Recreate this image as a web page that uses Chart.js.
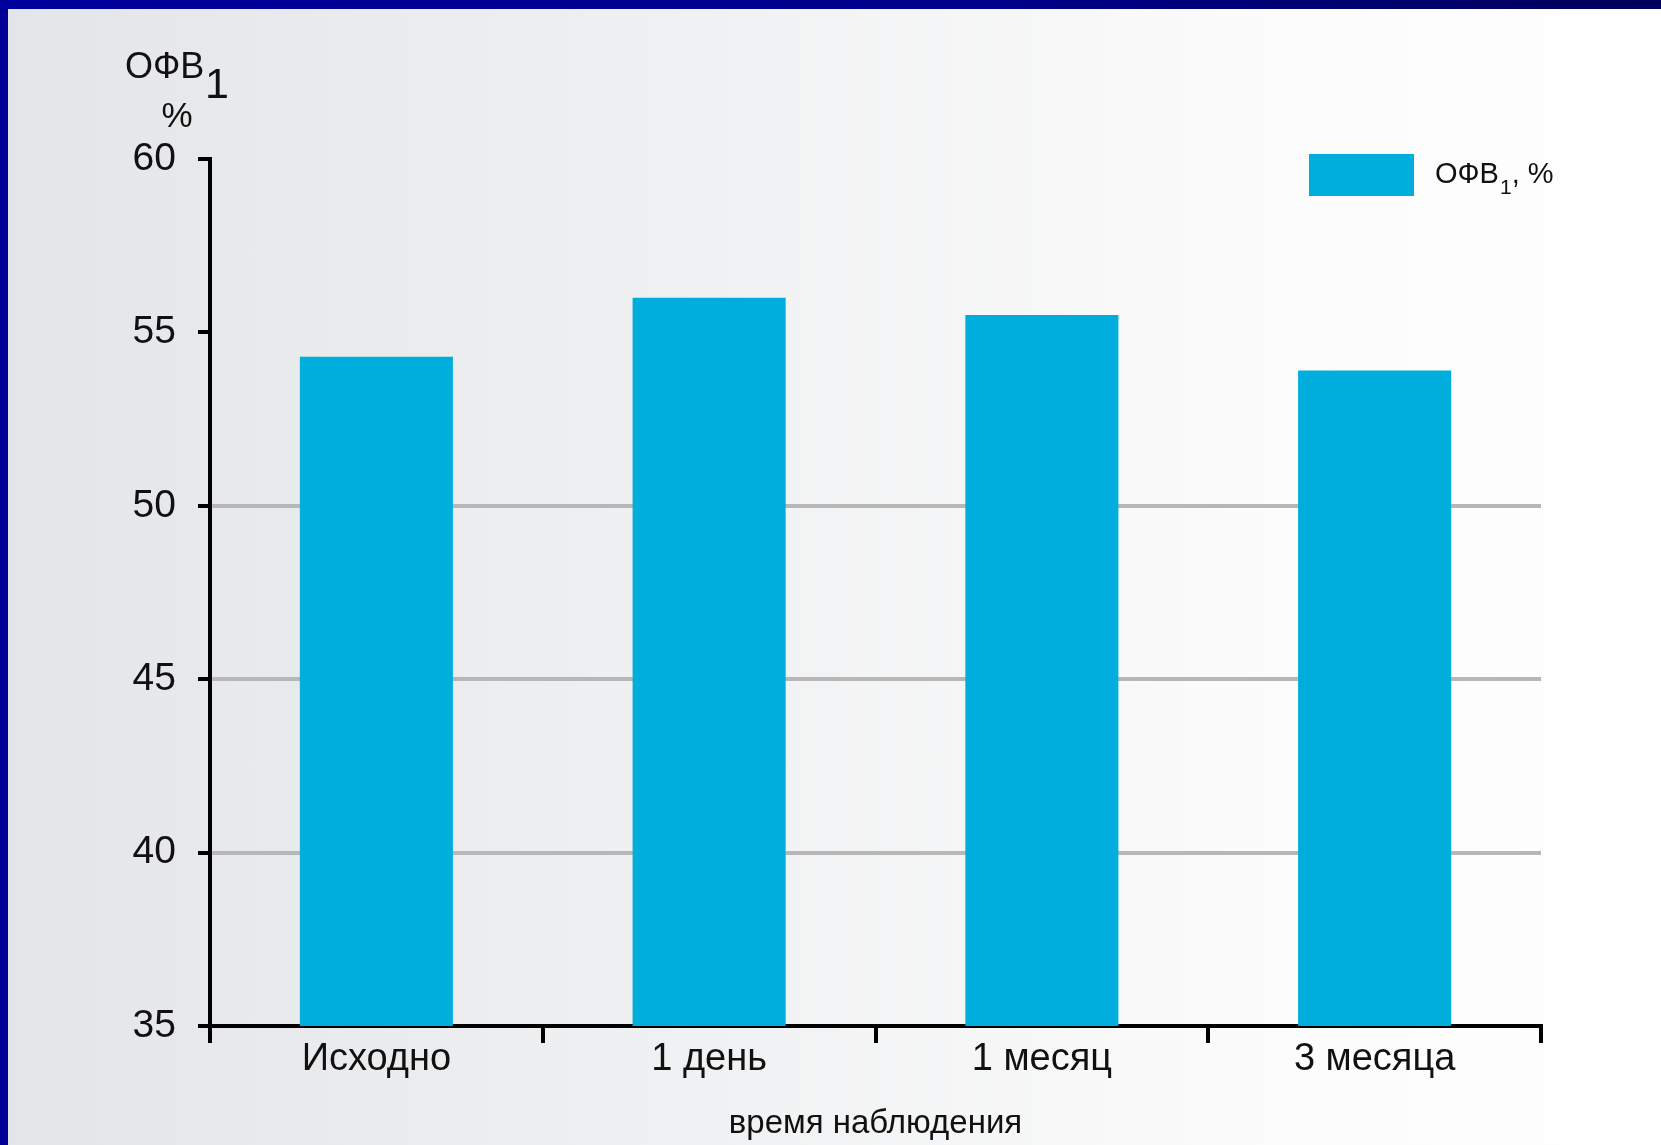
<!DOCTYPE html>
<html>
<head>
<meta charset="utf-8">
<script src="https://cdn.jsdelivr.net/npm/chart.js@4/dist/chart.umd.min.js"></script>
<style>
  html, body { margin: 0; padding: 0; }
  body { width: 1661px; height: 1145px; background: #000099; overflow: hidden; position: relative; }
  #topbar { position: absolute; left: 0; top: 0; width: 1661px; height: 9px;
            background: linear-gradient(to right, #00009c, #00008a 60%, #00005a); }
  #panel { position: absolute; left: 8px; top: 9px; width: 1653px; height: 1136px;
           background: linear-gradient(to right, #e3e5e8, #f1f2f3 45%, #fbfbfb 75%, #ffffff); }
  #chart { position: absolute; left: 0; top: 0; }
</style>
</head>
<body>
<div id="topbar"></div>
<div id="panel"></div>
<canvas id="chart" width="1661" height="1145"></canvas>
<script>
const categories = ['Исходно', '1 день', '1 месяц', '3 месяца'];
const fevValues = [54.3, 56.0, 55.5, 53.9];
const seriesLabel = 'ОФВ₁, %';
const yMin = 35;
const yMax = 60;
const yStep = 5;
const gridValues = [40, 45, 50];

const FONT = "'Liberation Sans', Arial, 'DejaVu Sans', sans-serif";
const INK = '#111111';
const BAR_COLOR = '#00aedd';

// caption above the value axis and the legend entry (both need a subscript "1")
const captions = {
    id: 'captions',
    afterDraw(chart) {
        const c = chart.ctx;
        c.save();
        c.fillStyle = INK;
        c.textBaseline = 'alphabetic';
        c.textAlign = 'left';
        c.font = '36px ' + FONT;
        c.fillText('ОФВ', 125, 78);
        c.font = '43px ' + FONT;
        c.fillText('1', 205, 98);
        c.textAlign = 'center';
        c.font = '35px ' + FONT;
        c.fillText('%', 177, 127);

        // legend
        const ds = chart.data.datasets[0];
        c.fillStyle = ds.backgroundColor;
        c.fillRect(1309, 154, 105, 42);
        c.fillStyle = INK;
        c.textAlign = 'left';
        let x = 1435;
        c.font = '29px ' + FONT;
        c.fillText('ОФВ', x, 183);
        x += c.measureText('ОФВ').width + 1;
        c.font = '21px ' + FONT;
        c.fillText('1', x, 194);
        x += c.measureText('1').width;
        c.font = '29px ' + FONT;
        c.fillText(', %', x, 183);
        c.restore();
    }
};

const ctx = document.getElementById('chart').getContext('2d');
const chart = new Chart(ctx, {
    type: 'bar',
    data: {
        labels: categories,
        datasets: [{
            label: seriesLabel,
            data: fevValues,
            backgroundColor: BAR_COLOR,
            borderWidth: 0,
            barPercentage: 0.46,
            categoryPercentage: 1.0
        }]
    },
    options: {
        responsive: false,
        animation: false,
        layout: {
            padding: { left: 0, top: 159, right: 120, bottom: 0 }
        },
        scales: {
            x: {
                offset: true,
                afterFit: (scale) => { scale.height = 119; },
                border: { display: true, color: '#000', width: 4 },
                grid: {
                    offset: true,
                    drawOnChartArea: false,
                    drawTicks: true,
                    tickLength: 17,
                    color: '#000',
                    lineWidth: 4
                },
                ticks: {
                    color: INK,
                    padding: -6,
                    font: { family: FONT, size: 38 }
                },
                title: {
                    display: true,
                    text: 'время наблюдения',
                    color: INK,
                    padding: { top: 0, bottom: 1 },
                    font: { family: FONT, size: 33 }
                }
            },
            y: {
                min: yMin,
                max: yMax,
                afterFit: (scale) => { scale.width = 210; },
                border: { display: true, color: '#000', width: 4 },
                grid: {
                    drawTicks: true,
                    tickLength: 12,
                    lineWidth: 4,
                    tickColor: '#000',
                    color: (c) => gridValues.includes(c.tick && c.tick.value) ? '#b7b7b7' : 'rgba(0,0,0,0)'
                },
                ticks: {
                    stepSize: yStep,
                    color: INK,
                    padding: 22,
                    font: { family: FONT, size: 39 }
                }
            }
        },
        plugins: {
            legend: { display: false },
            tooltip: { enabled: false }
        }
    },
    plugins: [captions]
});
</script>
</body>
</html>
